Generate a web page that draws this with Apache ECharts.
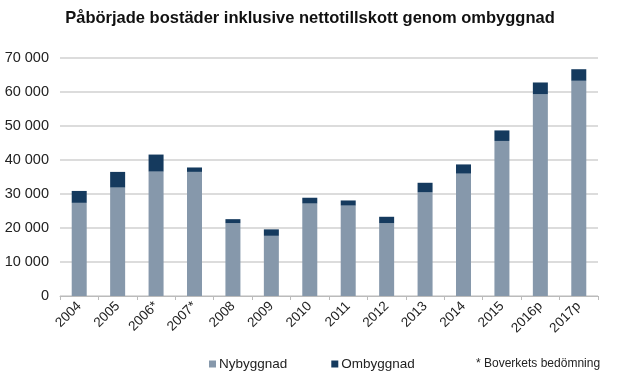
<!DOCTYPE html>
<html><head><meta charset="utf-8">
<script src="https://cdn.jsdelivr.net/npm/echarts@6/dist/echarts.min.js"></script>
<style>html,body{margin:0;padding:0;background:#fff}#c{width:620px;height:379px}</style>
</head><body><div id="c"></div>
<script>
const categories = ['2004','2005','2006*','2007*','2008','2009','2010','2011','2012','2013','2014','2015','2016p','2017p'];
const nybyggnad = [27400, 31900, 36600, 36500, 21400, 17700, 27200, 26600, 21400, 30500, 36000, 45600, 59300, 63300];
const ombyggnad = [3500, 4600, 5000, 1300, 1200, 1900, 1700, 1500, 1900, 2800, 2700, 3100, 3500, 3400];
const titleText = 'Påbörjade bostäder inklusive nettotillskott genom ombyggnad';
const footnote = '* Boverkets bedömning';

const chart = echarts.init(document.getElementById('c'), null, {renderer:'canvas'});
const font = 'Liberation Sans, Arial, sans-serif';
chart.setOption({
  animation:false,
  title:{text:titleText,left:'center',top:5,textStyle:{fontFamily:font,fontSize:16.5,fontWeight:'bold',color:'#111'}},
  grid:{left:60,right:22,top:58,bottom:83,containLabel:false},
  legend:{left:204,top:352,itemWidth:7,itemHeight:7,itemGap:44,icon:'rect',
    textStyle:{fontFamily:font,fontSize:13.5,color:'#222',padding:[0,0,0,-2]},
    data:['Nybyggnad','Ombyggnad']},
  graphic:[{type:'text',left:476,top:358,style:{text:footnote,fontFamily:font,fontSize:12,fill:'#222'}}],
  xAxis:{type:'category',data:categories,
    axisLine:{lineStyle:{color:'#bbb'}},
    axisTick:{show:true,alignWithLabel:false,length:4,lineStyle:{color:'#bbb'}},
    axisLabel:{rotate:45,fontFamily:font,fontSize:13.5,color:'#222',margin:8,interval:0}},
  yAxis:{type:'value',min:0,max:70000,interval:10000,
    axisLine:{show:false},axisTick:{show:false},
    splitLine:{lineStyle:{color:'#d0d0d0',width:1.5}},
    axisLabel:{fontFamily:font,fontSize:14.5,color:'#222',margin:11,
      formatter:v=>v===0?'0':String(v).replace(/\B(?=(\d{3})+(?!\d))/g,' ')}},
  series:[
    {name:'Nybyggnad',type:'bar',stack:'a',data:nybyggnad,barWidth:15,itemStyle:{color:'#8698ab'}},
    {name:'Ombyggnad',type:'bar',stack:'a',data:ombyggnad,barWidth:15,itemStyle:{color:'#153a5e'}}
  ]
});
</script></body></html>
